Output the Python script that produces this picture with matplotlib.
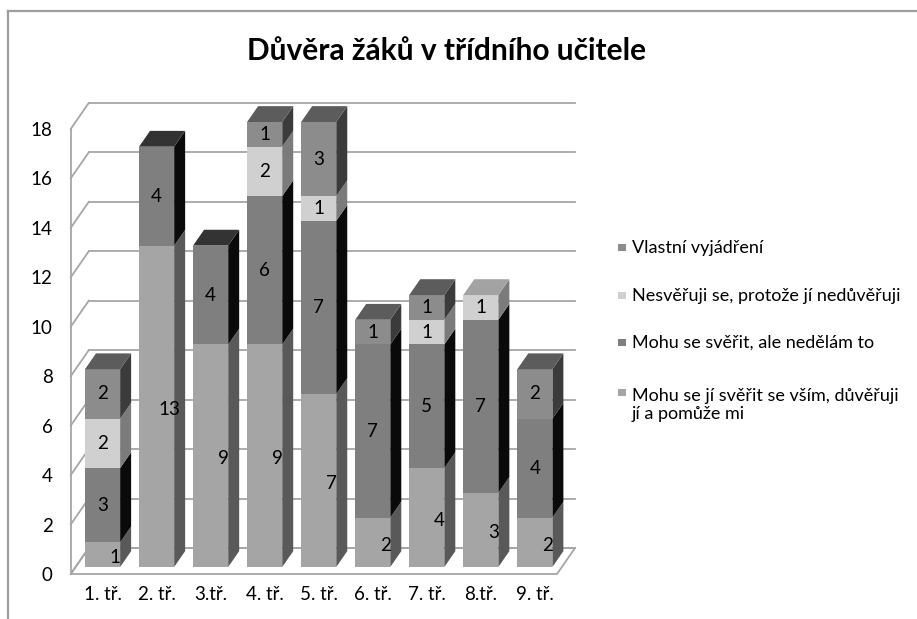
import numpy as np
import matplotlib.pyplot as plt
from matplotlib.patches import Polygon, Rectangle
from matplotlib.lines import Line2D
import matplotlib.transforms as mtransforms

plt.rcParams['font.family'] = ['Lato', 'DejaVu Sans']

# data
tridy = ['1. tř.', '2. tř.', '3.tř.', '4. tř.', '5. tř.', '6. tř.', '7. tř.', '8.tř.', '9. tř.']
serie = ['Mohu se jí svěřit se vším, důvěřuji\njí a pomůže mi',
         'Mohu se svěřit, ale nedělám to',
         'Nesvěřuji se, protože jí nedůvěřuji',
         'Vlastní vyjádření']
mohu_vse = [1, 13, 9, 9, 7, 2, 4, 3, 2]
mohu_nedelam = [3, 4, 4, 6, 7, 7, 5, 7, 4]
neduveruji = [2, 0, 0, 2, 1, 0, 1, 1, 0]
vlastni = [2, 0, 0, 1, 3, 1, 1, 0, 2]
yticks = list(range(0, 19, 2))

hodnoty = [mohu_vse, mohu_nedelam, neduveruji, vlastni]

# grey shades: front, side, top
front = ['#a5a5a5', '#7f7f7f', '#d0d0d0', '#8c8c8c']
side = ['#595959', '#0a0a0a', '#7b7b7b', '#3b3b3b']
top = ['#7a7a7a', '#333333', '#a3a3a3', '#5c5c5c']
grid_c = '#a6a6a6'

W, H = 917, 619
fig = plt.figure(figsize=(W / 100, H / 100), dpi=100)
# pixel coords from top-left for layout things
px = mtransforms.Affine2D().scale(1 / W, -1 / H).translate(0, 1) + fig.transFigure

ax = fig.add_axes([70.7 / W, (H - 574) / H, (557 - 70.7) / W, (574 - 129) / H])
ax.set_xlim(-0.5, 8.5)
ax.set_ylim(0, 18)
for s in ax.spines.values():
    s.set_visible(False)

# 3D depth in data units
DX, DY = 0.333, 1.05
f0, f1 = 0.27, 0.88
w = 0.65
x = np.arange(len(tridy))

# walls, floor, gridlines
floor = Polygon([(-0.5, 0), (8.5, 0), (8.5 + DX, DY), (-0.5 + DX, DY)],
                closed=True, fc='white', ec=grid_c, lw=1.3, zorder=1, clip_on=False)
ax.add_patch(floor)
ax.plot([-0.5, -0.5], [0, 18], color=grid_c, lw=1.3, zorder=1, clip_on=False)
for v in yticks:
    ax.plot([-0.5, -0.5 + DX], [v, v + DY], color=grid_c, lw=1.3, zorder=1, clip_on=False)
    ax.plot([-0.5 + DX, 8.5 + DX], [v + DY, v + DY], color=grid_c, lw=1.3, zorder=1, clip_on=False)

ddx = (f1 - f0) * DX
ddy = (f1 - f0) * DY
bottom = np.zeros(len(tridy))
lbl_size = 13.5
for k, vals in enumerate(hodnoty):
    vals = np.array(vals, dtype=float)
    ax.bar(x + f0 * DX, vals, width=w, bottom=bottom + f0 * DY, color=front[k],
           zorder=3, clip_on=False)
    for i in range(len(tridy)):
        if vals[i] == 0:
            continue
        xl = x[i] - w / 2 + f0 * DX
        xr = xl + w
        b = bottom[i] + f0 * DY
        t = b + vals[i]
        ax.add_patch(Polygon([(xr, b), (xr + ddx, b + ddy), (xr + ddx, t + ddy), (xr, t)],
                             closed=True, fc=side[k], ec='none', zorder=3, clip_on=False))
        # top face only on the highest segment
        if all(hodnoty[j][i] == 0 for j in range(k + 1, len(hodnoty))):
            ax.add_patch(Polygon([(xl, t), (xr, t), (xr + ddx, t + ddy), (xl + ddx, t + ddy)],
                                 closed=True, fc=top[k], ec='none', zorder=3, clip_on=False))
        if k == 0:
            ax.text(xr - 0.09, b + vals[i] / 2 - 0.12, '%d' % vals[i], ha='center', va='center',
                    fontsize=lbl_size, color='black', zorder=5)
        else:
            ax.text(x[i] + f0 * DX, b + vals[i] / 2, '%d' % vals[i], ha='center', va='center',
                    fontsize=lbl_size, color='black', zorder=5)
    bottom += vals

ax.set_yticks(yticks)
ax.set_xticks(x + f0 * DX)
ax.set_xticklabels(tridy)
ax.tick_params(axis='y', length=0, pad=13, labelsize=lbl_size)
ax.tick_params(axis='x', length=0, pad=9, labelsize=lbl_size)

# title
fig.text(447, 51, 'Důvěra žáků v třídního učitele', transform=px, ha='center', va='center',
         fontsize=21.5, fontweight='bold')

# legend (drawn by hand, top entry = last series)
leg_y = [247, 295, 342, 392]
for j, k in enumerate([3, 2, 1, 0]):
    fig.add_artist(Rectangle((618, leg_y[j] - 3.5), 7.5, 7.5, transform=px, fc=front[k], ec='none'))
    extra = serie[k].count('\n') * 21
    fig.text(632, leg_y[j] + 6 + extra, serie[k], transform=px, ha='left', va='baseline',
             fontsize=13, linespacing=1.15)

# chart border (only top and left are inside the picture)
fig.add_artist(Line2D([8, 8], [11, H], transform=px, color='#9e9e9e', lw=1.6))
fig.add_artist(Line2D([8, W], [11, 11], transform=px, color='#9e9e9e', lw=1.6))

fig.savefig('out.png', dpi=100)
